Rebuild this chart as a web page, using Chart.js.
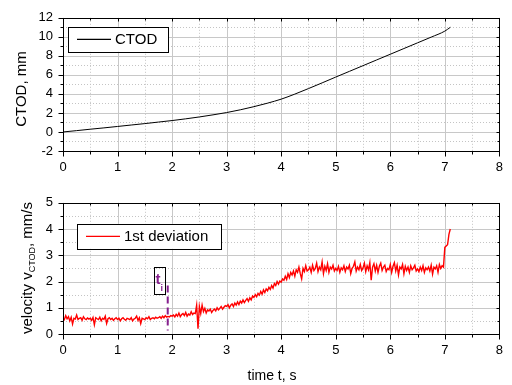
<!DOCTYPE html>
<html>
<head>
<meta charset="utf-8">
<script src="https://cdn.jsdelivr.net/npm/chart.js@4.4.1/dist/chart.umd.min.js"></script>
<style>
  html, body { margin: 0; padding: 0; background: #fff; }
  #wrap { position: relative; width: 512px; height: 385px; }
  .panel { position: absolute; left: 0; width: 512px; }
  #top { top: 0; height: 185px; }
  #bot { top: 185px; height: 200px; }
</style>
</head>
<body>
<div id="wrap">
  <div class="panel" id="top"><canvas id="ctodChart"></canvas></div>
  <div class="panel" id="bot"><canvas id="velChart"></canvas></div>
</div>
<script>
// Crack tip opening displacement, mm, versus time, s
const ctodTime  = [0, 0.25, 0.5, 0.75, 1, 1.25, 1.5, 1.75, 2, 2.25, 2.5, 2.75, 3, 3.25, 3.5, 3.75,
                   4, 4.25, 4.5, 4.75, 5, 5.25, 5.5, 5.75, 6, 6.25, 6.5, 6.75, 7, 7.1];
const ctodValue = [0, 0.14, 0.29, 0.43, 0.58, 0.73, 0.88, 1.04, 1.2, 1.38, 1.58, 1.8, 2.04, 2.33, 2.66, 3.03,
                   3.45, 3.98, 4.56, 5.16, 5.77, 6.37, 6.97, 7.57, 8.17, 8.77, 9.37, 9.97, 10.6, 11.0];

// Opening velocity (1st deviation), mm/s, sampled every 25 ms from t = 0
const velStart = 0;
const velStep = 0.025;
const velValue = [
  0.62,0.55,0.70,0.58,0.66,0.50,0.64,0.38,0.60,0.57,0.72,0.55,0.60,0.62,0.52,0.66,0.58,0.55,0.61,0.57,
  0.60,0.52,0.63,0.35,0.62,0.58,0.55,0.64,0.50,0.60,0.56,0.68,0.40,0.58,0.62,0.55,0.60,0.52,0.58,0.62,
  0.55,0.60,0.50,0.58,0.62,0.56,0.52,0.60,0.58,0.55,0.62,0.50,0.57,0.60,0.68,0.52,0.62,0.40,0.60,0.58,
  0.55,0.62,0.58,0.66,0.55,0.60,0.62,0.58,0.64,0.60,0.62,0.66,0.60,0.68,0.62,0.70,0.64,0.67,0.65,0.70,
  0.68,0.72,0.65,0.75,0.68,0.80,0.66,0.74,0.78,0.70,0.82,0.68,0.76,0.72,0.85,0.74,0.80,0.78,1.10,0.20,
  1.05,0.78,1.10,0.85,0.98,0.80,0.92,0.88,0.95,0.82,0.90,0.95,0.88,1.00,0.92,0.98,1.05,0.95,1.02,1.08,
  1.05,1.12,1.00,1.10,1.15,1.05,1.18,1.10,1.22,1.12,1.25,1.18,1.30,1.20,1.28,1.35,1.25,1.38,1.30,1.45,
  1.40,1.50,1.42,1.55,1.48,1.62,1.52,1.68,1.58,1.72,1.65,1.78,1.70,1.85,1.75,1.92,1.85,2.00,1.90,2.02,
  1.98,2.10,2.05,2.20,2.08,2.30,2.15,2.35,2.25,2.40,2.20,2.45,2.35,2.55,2.30,2.10,2.50,2.38,2.60,2.40,
  2.45,2.55,2.35,2.62,2.42,2.50,2.70,2.38,2.55,2.45,2.75,2.30,2.58,2.42,2.68,2.35,2.55,2.48,2.62,2.40,
  2.50,2.42,2.58,2.35,2.52,2.45,2.60,2.38,2.55,2.48,2.62,2.30,2.50,2.58,2.75,2.40,2.55,2.45,2.65,2.42,
  2.52,2.70,2.38,2.60,2.45,2.72,2.05,2.55,2.68,2.40,2.62,2.35,2.58,2.70,2.42,2.55,2.62,2.38,2.50,2.45,
  2.65,2.35,2.58,2.72,2.40,2.62,2.25,2.55,2.48,2.65,2.30,2.58,2.42,2.55,2.35,2.60,2.45,2.52,2.62,2.40,
  2.48,2.38,2.55,2.42,2.60,2.35,2.52,2.45,2.55,2.40,2.62,2.28,2.55,2.48,2.60,2.35,2.65,2.50,2.60,2.55,
  3.30,3.35,3.40,3.80,4.00
];

// Crack initiation time t_i and the span of its marker line
const initTime = 1.92;
const initMarkFrom = 0.13;
const initMarkTo = 1.85;

const FONT = '"Liberation Sans", Arial, Helvetica, sans-serif';
const ctodPoints = ctodTime.map((t, i) => ({ x: t, y: ctodValue[i] }));
const velPoints = velValue.map((v, i) => ({ x: velStart + i * velStep, y: v }));

const crisp = v => Math.round(v) + 0.5;

function midValues(ticks) {
  const v = ticks.map(t => t.value), out = [];
  for (let i = 0; i < v.length - 1; i++) out.push((v[i] + v[i + 1]) / 2);
  return out;
}

// Origin-style frame: solid major grid, dotted minor grid, boxed axes with tick marks
function makeFrame(id, drawExtra) {
  return {
    id: id,
    beforeDatasetsDraw(chart) {
      const { ctx, chartArea: a, scales: { x, y } } = chart;
      ctx.save();
      ctx.lineWidth = 1;
      ctx.strokeStyle = '#c4c4c4';
      ctx.setLineDash([1, 2]);
      midValues(x.ticks).forEach(v => {
        const p = crisp(x.getPixelForValue(v));
        ctx.beginPath(); ctx.moveTo(p, a.top); ctx.lineTo(p, a.bottom); ctx.stroke();
      });
      midValues(y.ticks).forEach(v => {
        const p = crisp(y.getPixelForValue(v));
        ctx.beginPath(); ctx.moveTo(a.left, p); ctx.lineTo(a.right, p); ctx.stroke();
      });
      ctx.setLineDash([]);
      ctx.strokeStyle = '#c8c8c8';
      x.ticks.forEach(t => {
        const p = crisp(x.getPixelForValue(t.value));
        ctx.beginPath(); ctx.moveTo(p, a.top); ctx.lineTo(p, a.bottom); ctx.stroke();
      });
      y.ticks.forEach(t => {
        const p = crisp(y.getPixelForValue(t.value));
        ctx.beginPath(); ctx.moveTo(a.left, p); ctx.lineTo(a.right, p); ctx.stroke();
      });
      ctx.restore();
    },
    afterDatasetsDraw(chart) {
      const { ctx, chartArea: a, scales: { x, y } } = chart;
      const L = crisp(a.left), R = crisp(a.right), T = crisp(a.top), B = crisp(a.bottom);
      ctx.save();
      ctx.strokeStyle = '#000';
      ctx.lineWidth = 1;
      ctx.strokeRect(L, T, R - L, B - T);
      ctx.beginPath();
      x.ticks.forEach(t => {
        const p = crisp(x.getPixelForValue(t.value));
        ctx.moveTo(p, B); ctx.lineTo(p, B + 5);
        ctx.moveTo(p, T); ctx.lineTo(p, T + 3);
      });
      midValues(x.ticks).forEach(v => {
        const p = crisp(x.getPixelForValue(v));
        ctx.moveTo(p, B); ctx.lineTo(p, B + 3);
        ctx.moveTo(p, T); ctx.lineTo(p, T + 2);
      });
      y.ticks.forEach(t => {
        const p = crisp(y.getPixelForValue(t.value));
        ctx.moveTo(L, p); ctx.lineTo(L - 5, p);
        ctx.moveTo(R, p); ctx.lineTo(R - 3, p);
      });
      midValues(y.ticks).forEach(v => {
        const p = crisp(y.getPixelForValue(v));
        ctx.moveTo(L, p); ctx.lineTo(L - 3, p);
        ctx.moveTo(R, p); ctx.lineTo(R - 2, p);
      });
      ctx.stroke();
      ctx.restore();
      drawExtra(chart);
    }
  };
}

function legendBox(ctx, box, color, label) {
  ctx.save();
  ctx.fillStyle = '#fff';
  ctx.fillRect(box.x, box.y, box.w, box.h);
  ctx.strokeStyle = '#000';
  ctx.lineWidth = 1;
  ctx.strokeRect(crisp(box.x), crisp(box.y), Math.round(box.w), Math.round(box.h));
  const cy = box.y + box.h / 2;
  ctx.strokeStyle = color;
  ctx.lineWidth = 1.3;
  ctx.beginPath(); ctx.moveTo(box.x + 9, cy); ctx.lineTo(box.x + 43, cy); ctx.stroke();
  ctx.fillStyle = '#000';
  ctx.font = '15px ' + FONT;
  ctx.textBaseline = 'middle';
  ctx.fillText(label, box.x + 47, cy + 1);
  ctx.restore();
}

function baseOptions(yMin, yMax, yStep, xHeight) {
  return {
    responsive: true,
    maintainAspectRatio: false,
    animation: false,
    devicePixelRatio: 1,
    layout: { autoPadding: false, padding: { top: 7, right: 10, left: 0, bottom: 0 } },
    plugins: { legend: { display: false }, tooltip: { enabled: false } },
    elements: { point: { radius: 0 } },
    scales: {
      x: {
        type: 'linear', min: 0, max: 8,
        grid: { display: true, drawOnChartArea: false, drawTicks: false, color: 'rgba(0,0,0,0)' },
        border: { display: false },
        ticks: { stepSize: 1, padding: 9, maxRotation: 0, autoSkip: false, color: '#000', font: { family: FONT, size: 13 } },
        afterFit(s) { s.height = xHeight; }
      },
      y: {
        min: yMin, max: yMax,
        grid: { display: true, drawOnChartArea: false, drawTicks: false, color: 'rgba(0,0,0,0)' },
        border: { display: false },
        ticks: { stepSize: yStep, padding: 10, autoSkip: false, color: '#000', font: { family: FONT, size: 13 } },
        afterFit(s) { s.width = 63; }
      }
    }
  };
}

// Upper panel: CTOD
new Chart(document.getElementById('ctodChart'), {
  type: 'line',
  data: { datasets: [{ data: ctodPoints, borderColor: '#000', borderWidth: 1, cubicInterpolationMode: 'monotone', fill: false }] },
  options: baseOptions(-2, 12, 2, 34),
  plugins: [makeFrame('ctodFrame', chart => {
    const { ctx, chartArea: a } = chart;
    legendBox(ctx, { x: a.left + 5, y: a.top + 9, w: 100, h: 25 }, '#000', 'CTOD');
    ctx.save();
    ctx.fillStyle = '#000';
    ctx.font = '15px ' + FONT;
    ctx.translate(26, 89);
    ctx.rotate(-Math.PI / 2);
    ctx.textAlign = 'center';
    ctx.textBaseline = 'alphabetic';
    ctx.fillText('CTOD, mm', 0, 0);
    ctx.restore();
  })]
});

// Lower panel: velocity with the initiation marker
new Chart(document.getElementById('velChart'), {
  type: 'line',
  data: { datasets: [{ data: velPoints, borderColor: '#ff0000', borderWidth: 1.4, tension: 0, fill: false }] },
  options: baseOptions(0, 5, 1, 51),
  plugins: [makeFrame('velFrame', chart => {
    const { ctx, chartArea: a, scales: { x, y } } = chart;
    legendBox(ctx, { x: a.left + 14, y: a.top + 21, w: 144, h: 25 }, '#ff0000', '1st deviation');

    // initiation marker line
    const xi = x.getPixelForValue(initTime);
    ctx.save();
    ctx.strokeStyle = '#86208e';
    ctx.lineWidth = 2;
    ctx.setLineDash([7, 4]);
    ctx.beginPath();
    ctx.moveTo(xi, y.getPixelForValue(initMarkTo));
    ctx.lineTo(xi, y.getPixelForValue(initMarkFrom));
    ctx.stroke();
    ctx.setLineDash([]);
    // t_i label box
    const bx = Math.round(xi) - 14, by = Math.round(y.getPixelForValue(2.56));
    ctx.strokeStyle = '#000';
    ctx.lineWidth = 1;
    ctx.strokeRect(bx + 0.5, by + 0.5, 11, 27);
    ctx.fillStyle = '#86208e';
    ctx.font = 'bold 15px ' + FONT;
    ctx.textBaseline = 'alphabetic';
    ctx.fillText('t', bx + 1.5, by + 17);
    ctx.font = 'bold 9px ' + FONT;
    ctx.fillText('i', bx + 6.5, by + 24);
    ctx.restore();

    // y axis title with subscript
    ctx.save();
    ctx.fillStyle = '#000';
    ctx.translate(32, 83);
    ctx.rotate(-Math.PI / 2);
    ctx.textBaseline = 'alphabetic';
    const f1 = '15px ' + FONT, f2 = '9px ' + FONT;
    const p1 = 'velocity v', p2 = 'CTOD', p3 = ', mm/s';
    ctx.font = f1; const w1 = ctx.measureText(p1).width, w3 = ctx.measureText(p3).width;
    ctx.font = f2; const w2 = ctx.measureText(p2).width;
    let sx = -(w1 + w2 + w3) / 2;
    ctx.font = f1; ctx.fillText(p1, sx, 0); sx += w1;
    ctx.font = f2; ctx.fillText(p2, sx, 3); sx += w2;
    ctx.font = f1; ctx.fillText(p3, sx, 0);
    ctx.restore();

    // x axis title
    ctx.save();
    ctx.fillStyle = '#000';
    ctx.font = '14px ' + FONT;
    ctx.textAlign = 'center';
    ctx.textBaseline = 'alphabetic';
    ctx.fillText('time t, s', 272, 195);
    ctx.restore();
  })]
});
</script>
</body>
</html>
